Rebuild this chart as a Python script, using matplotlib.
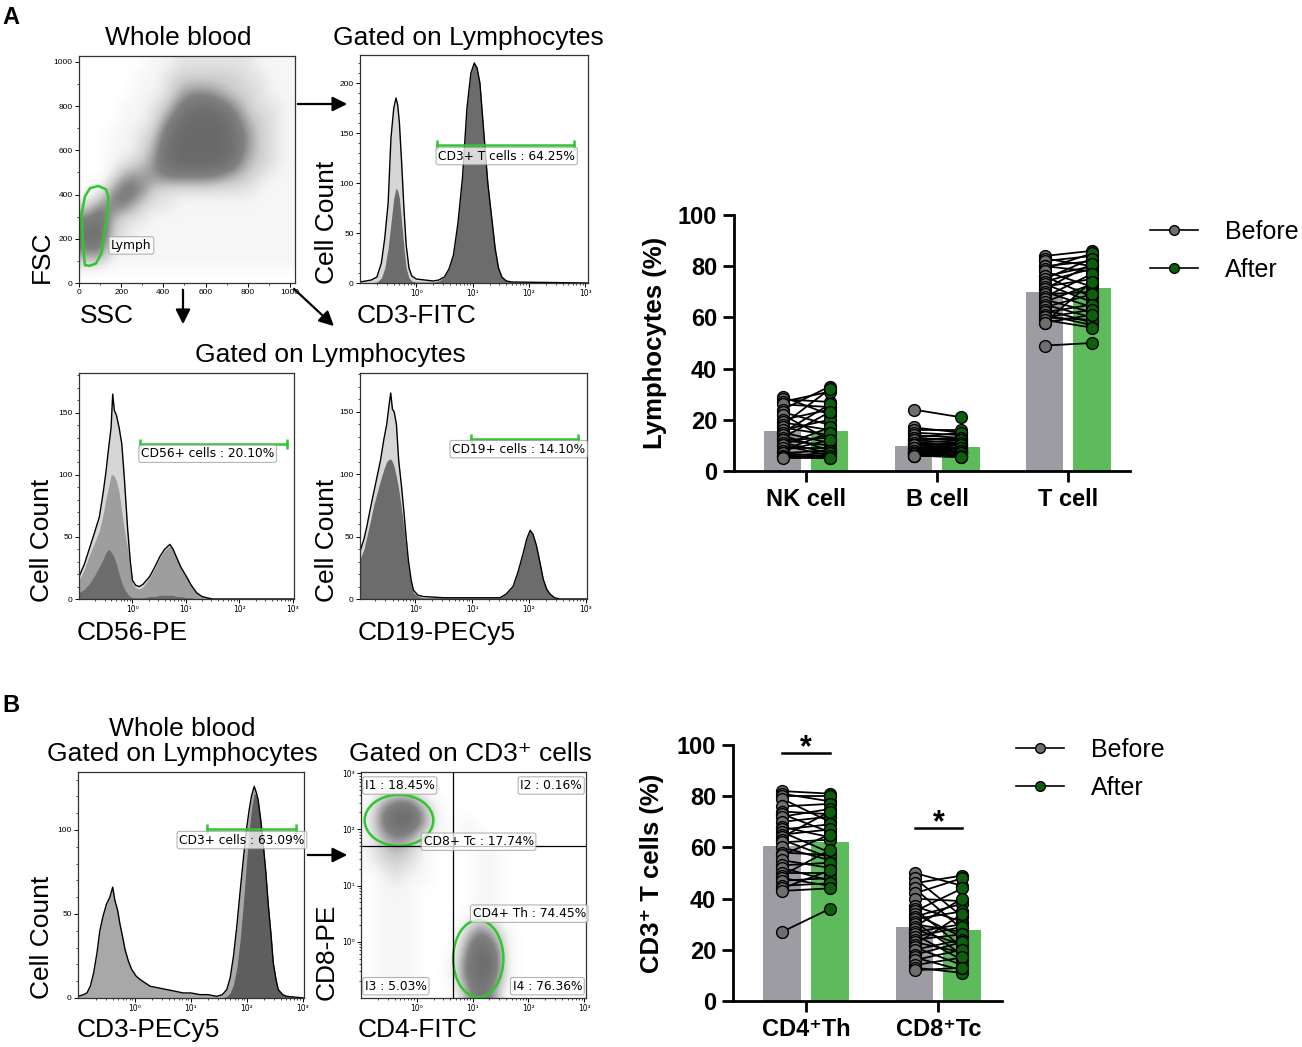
import numpy as np
import matplotlib
matplotlib.use('Agg')
import matplotlib.pyplot as plt
from matplotlib.colors import LinearSegmentedColormap
from matplotlib.patches import Ellipse, Polygon
from matplotlib.lines import Line2D

W, H = 1302, 1047
plt.rcParams['font.family'] = ['Liberation Sans', 'DejaVu Sans']

# ---------------- data ----------------
# whole blood SSC/FSC density (16x16 cells of 64 units, top row = FSC 960-1024)
wb_density = [
    [0, 0, 0, 0, 0, 1, 1, 2, 2, 2, 2, 2, 2, 1, 1, 1],
    [0, 0, 0, 0, 1, 1, 2, 3, 3, 3, 3, 3, 2, 2, 1, 1],
    [0, 0, 0, 0, 1, 1, 2, 4, 5, 5, 4, 3, 3, 2, 1, 1],
    [0, 0, 0, 1, 1, 2, 3, 6, 8, 8, 7, 5, 3, 2, 2, 1],
    [0, 0, 0, 1, 1, 2, 5, 8, 9, 9, 9, 7, 4, 3, 2, 1],
    [0, 0, 1, 1, 2, 3, 7, 9, 9, 9, 9, 8, 5, 3, 2, 1],
    [0, 0, 1, 1, 2, 4, 8, 9, 9, 9, 9, 8, 5, 3, 2, 1],
    [0, 0, 1, 2, 3, 5, 8, 9, 9, 9, 9, 7, 4, 3, 2, 1],
    [0, 0, 2, 5, 5, 5, 6, 6, 6, 6, 5, 4, 3, 2, 1, 1],
    [0, 1, 5, 7, 6, 3, 2, 2, 2, 2, 2, 2, 2, 1, 1, 1],
    [2, 5, 6, 6, 3, 2, 2, 1, 1, 1, 1, 1, 1, 1, 1, 1],
    [6, 8, 4, 2, 2, 1, 1, 1, 1, 1, 1, 1, 1, 1, 1, 1],
    [8, 9, 3, 2, 1, 1, 1, 1, 1, 1, 1, 1, 1, 1, 1, 1],
    [6, 7, 2, 1, 1, 1, 1, 1, 1, 1, 1, 1, 1, 1, 1, 1],
    [3, 3, 1, 1, 1, 1, 1, 1, 1, 1, 1, 1, 1, 1, 1, 1],
    [0, 0, 0, 0, 0, 0, 0, 0, 0, 0, 0, 0, 0, 0, 0, 0],
]
lymph_gate_ssc = [91, 128, 139, 135, 120, 107, 80, 50, 28, 17, 13, 28, 52, 91]
lymph_gate_fsc = [439, 424, 390, 320, 230, 135, 88, 78, 81, 195, 315, 391, 429, 439]

# histograms: x = log10(intensity), y = cell count
cd3_x = [-1.0, -0.8, -0.7, -0.62, -0.56, -0.5, -0.45, -0.4, -0.36, -0.33,
         -0.3, -0.26, -0.22, -0.18, -0.13, -0.08, 0.0, 0.15, 0.3, 0.4,
         0.5, 0.58, 0.66, 0.74, 0.82, 0.9, 0.97, 1.03, 1.08, 1.13,
         1.2, 1.27, 1.34, 1.4, 1.46, 1.52, 1.6, 1.7, 3.05]
cd3_total = [1, 3, 6, 20, 45, 80, 145, 175, 185, 178,
             160, 120, 75, 38, 15, 7, 4, 3, 2, 3,
             6, 14, 28, 60, 105, 175, 210, 220, 215, 200,
             150, 100, 65, 35, 15, 6, 2, 1, 0]
cd3_dark = [0, 0, 1, 5, 15, 35, 60, 85, 95, 92,
            85, 60, 35, 15, 5, 2, 1, 1, 1, 2,
            6, 14, 28, 60, 105, 175, 210, 220, 215, 200,
            150, 100, 65, 35, 15, 6, 2, 1, 0]

cd56_x = [-1.0, -0.9, -0.81, -0.72, -0.62, -0.55, -0.5, -0.45, -0.4, -0.37,
          -0.34, -0.3, -0.25, -0.2, -0.15, -0.09, -0.04, 0.0, 0.06, 0.13,
          0.2, 0.32, 0.42, 0.51, 0.6, 0.7, 0.76, 0.82, 0.9, 1.01,
          1.1, 1.2, 1.3, 1.39, 1.5, 3.02]
cd56_total = [18, 28, 40, 52, 66, 85, 101, 120, 138, 165,
              152, 148, 138, 125, 96, 56, 30, 15, 11, 10,
              12, 18, 26, 34, 40, 44, 40, 34, 26, 18,
              11, 5, 2, 1, 0, 0]
cd56_mid = [15, 24, 35, 44, 55, 68, 80, 90, 100, 100,
            99, 95, 86, 70, 55, 40, 22, 12, 9, 8,
            10, 17, 25, 33, 39, 43, 39, 33, 25, 17,
            10, 5, 2, 1, 0, 0]
cd56_dark = [5, 8, 12, 18, 26, 32, 37, 40, 38, 36,
             33, 28, 20, 13, 8, 4, 2, 1, 1, 1,
             1, 2, 2, 3, 3, 3, 3, 2, 2, 1,
             1, 0, 0, 0, 0, 0]

cd19_x = [-0.97, -0.9, -0.85, -0.79, -0.73, -0.67, -0.61, -0.55, -0.5, -0.46,
          -0.43, -0.4, -0.37, -0.33, -0.29, -0.24, -0.2, -0.16, -0.12, -0.07,
          -0.03, 0.05, 0.14, 0.5, 1.0, 1.49, 1.6, 1.72, 1.81, 1.9,
          1.96, 2.02, 2.07, 2.13, 2.19, 2.25, 2.31, 2.37, 2.45, 2.54, 3.02]
cd19_total = [38, 48, 58, 72, 85, 98, 111, 128, 140, 155,
              165, 152, 150, 140, 111, 90, 71, 50, 31, 15,
              7, 3, 2, 1, 1, 1, 4, 10, 22, 37,
              48, 55, 52, 43, 30, 16, 8, 4, 1, 0, 0]
cd19_dark = [32, 40, 50, 62, 75, 85, 95, 104, 110, 112,
             112, 110, 106, 98, 88, 72, 58, 40, 25, 12,
             5, 2, 1, 1, 1, 1, 4, 10, 22, 37,
             48, 55, 52, 43, 30, 16, 8, 4, 1, 0, 0]

cd3b_x = [-1.02, -0.92, -0.86, -0.8, -0.74, -0.68, -0.63, -0.57, -0.51, -0.45,
          -0.4, -0.36, -0.31, -0.27, -0.22, -0.18, -0.12, -0.06, 0.02, 0.09,
          0.18, 0.27, 0.42, 0.57, 0.72, 0.86, 1.0, 1.16, 1.3, 1.46,
          1.56, 1.64, 1.7, 1.76, 1.82, 1.88, 1.94, 1.99, 2.04, 2.08,
          2.13, 2.17, 2.2, 2.25, 2.29, 2.34, 2.38, 2.43, 2.47, 2.52,
          2.56, 2.64, 2.71, 3.02]
cd3b_total = [1, 2, 3, 7, 15, 27, 40, 49, 56, 60,
              66, 58, 52, 44, 36, 29, 22, 17, 13, 11,
              9, 7, 6, 5, 4, 3, 3, 2, 2, 1,
              2, 5, 12, 25, 43, 64, 84, 100, 112, 120,
              126, 122, 118, 105, 92, 74, 56, 38, 21, 11,
              5, 2, 1, 0]
cd3b_dark = [0, 0, 0, 0, 0, 0, 0, 0, 0, 0,
             0, 0, 0, 0, 0, 0, 0, 0, 0, 0,
             0, 0, 0, 0, 0, 0, 0, 0, 0, 0,
             0, 1, 3, 8, 18, 35, 58, 80, 100, 112,
             122, 120, 117, 105, 92, 74, 56, 38, 21, 11,
             5, 2, 1, 0]

# CD4 / CD8 density (16x16 cells of 0.25 decade, top row = 10^2.75-10^3)
cd48_density = [
    [0, 0, 0, 0, 0, 0, 0, 0, 0, 0, 0, 0, 0, 0, 0, 0],
    [0, 2, 3, 3, 1, 0, 0, 0, 0, 0, 0, 0, 0, 0, 0, 0],
    [1, 5, 8, 8, 4, 1, 0, 0, 0, 0, 0, 0, 0, 0, 0, 0],
    [1, 6, 9, 9, 5, 1, 0, 1, 0, 0, 0, 0, 0, 0, 0, 0],
    [1, 4, 6, 5, 2, 1, 0, 1, 1, 0, 0, 0, 0, 0, 0, 0],
    [1, 3, 4, 3, 1, 0, 0, 0, 1, 1, 0, 0, 0, 0, 0, 0],
    [1, 2, 3, 2, 1, 0, 0, 0, 1, 1, 0, 0, 0, 0, 0, 0],
    [0, 1, 2, 1, 1, 0, 0, 0, 1, 1, 0, 0, 0, 0, 0, 0],
    [0, 1, 1, 1, 0, 0, 0, 0, 1, 1, 0, 0, 0, 0, 0, 0],
    [0, 1, 1, 1, 0, 0, 0, 0, 1, 1, 0, 0, 0, 0, 0, 0],
    [0, 1, 1, 1, 0, 0, 0, 1, 3, 2, 0, 0, 0, 0, 0, 0],
    [0, 1, 1, 1, 0, 0, 0, 3, 7, 4, 1, 0, 0, 0, 0, 0],
    [0, 1, 1, 1, 0, 0, 0, 5, 9, 7, 1, 0, 0, 0, 0, 0],
    [0, 1, 1, 1, 0, 0, 1, 6, 9, 8, 1, 0, 0, 0, 0, 0],
    [0, 1, 1, 1, 0, 0, 1, 6, 9, 7, 1, 0, 0, 0, 0, 0],
    [0, 0, 1, 0, 0, 0, 0, 4, 8, 5, 0, 0, 0, 0, 0, 0],
]

# bar charts (per-subject %)
lymph_cats = ['NK cell', 'B cell', 'T cell']
lymph_mean_before = [15.8, 9.7, 70.0]
lymph_mean_after = [15.8, 9.3, 71.3]
nk_before = [29, 28, 27, 26, 24, 23, 22, 20, 19, 18, 17, 16, 15, 15, 14,
             13, 12, 12, 11, 10, 10, 9, 8, 8, 7, 7, 6, 6, 5.5, 5]
nk_after = [22, 27, 31, 25, 33, 18, 12, 24, 16, 32, 14, 20, 26, 11, 8,
            23, 10, 13, 7, 17, 6, 9, 15, 12, 5.5, 8, 7, 5, 6, 5]
b_before = [24, 17, 16, 15, 14, 13, 13, 12, 12, 11, 11, 10, 10, 10, 9,
            9, 9, 8, 8, 8, 8, 7, 7, 7, 7, 6.5, 6, 6, 6, 6]
b_after = [21, 15, 16, 14, 13, 15, 12, 11, 13, 10, 12, 9, 11, 10, 9,
           8, 10, 8, 9, 7, 8, 7, 8, 6, 7, 6, 7, 5.5, 6, 5.5]
t_before = [84, 83, 82, 80, 80, 79, 78, 76, 76, 75, 74, 73, 72, 71, 70,
            69, 68, 67, 66, 65, 64, 63, 62, 61, 60, 60, 59, 58, 58, 49]
t_after = [86, 80, 84, 82, 78, 85, 72, 80, 68, 83, 79, 66, 75, 81, 64,
           70, 77, 62, 73, 60, 69, 58, 65, 57, 63, 59, 56, 61, 74, 50]

tcell_cats = ['CD4\u207aTh', 'CD8\u207aTc']
tcell_mean_before = [60.5, 28.8]
tcell_mean_after = [62.0, 27.8]
cd4_before = [82, 81, 80, 79, 76, 74, 73, 72, 70, 68, 67, 66, 65, 64, 63,
              62, 60, 58, 57, 55, 53, 52, 50, 49, 48, 47, 45, 44, 43, 27]
cd4_after = [81, 78, 80, 70, 77, 73, 66, 75, 72, 64, 69, 58, 67, 74, 56,
             63, 55, 57, 65, 52, 54, 47, 50, 59, 45, 48, 46, 51, 44, 36]
cd8_before = [50, 48, 46, 44, 42, 40, 37, 36, 35, 34, 33, 32, 31, 30, 29,
              28, 27, 26, 25, 24, 23, 22, 21, 20, 18, 17, 16, 14, 13, 12]
cd8_after = [45, 33, 49, 28, 48, 39, 31, 21, 44, 25, 38, 35, 18, 27, 40,
             22, 30, 16, 29, 26, 19, 34, 14, 24, 23, 12, 20, 17, 11, 13]

# ---------------- styling ----------------
light_gray = '#d6d6d6'
mid_gray = '#9e9e9e'
dark_gray = '#6c6c6c'
gate_green = '#2ec82e'
bar_gray = '#9d9ca2'
bar_green = '#5dbb5b'
dot_gray = '#6e6e6e'
dot_green = '#0d5f0d'
sup = {0: '\u2070', 1: '\u00b9', 2: '\u00b2', 3: '\u00b3'}
flow_cmap = LinearSegmentedColormap.from_list(
    'flow', [(0, '#ffffff'), (0.12, '#f5f5f5'), (0.35, '#cdcdcd'),
             (0.65, '#818181'), (1, '#6a6a6a')])
flow_cmap.set_under('#ffffff')

fig = plt.figure(figsize=(W / 100, H / 100), dpi=100)


def add_ax(l, t, r, b):
    return fig.add_axes([l / W, 1 - b / H, (r - l) / W, (b - t) / H])


def ftext(x, y, s, **kw):
    kw.setdefault('ha', 'center')
    kw.setdefault('va', 'center')
    kw.setdefault('fontsize', 19)
    fig.text(x / W, 1 - y / H, s, **kw)


def arrow(x1, y1, x2, y2):
    fig.add_artist(matplotlib.patches.FancyArrowPatch(
        (x1 / W, 1 - y1 / H), (x2 / W, 1 - y2 / H), transform=fig.transFigure,
        arrowstyle='-|>', mutation_scale=22, lw=1.6, color='k'))


def flow_style(ax):
    for s in ax.spines.values():
        s.set_linewidth(0.9)
        s.set_color('#333333')
    ax.tick_params(which='major', length=3, width=0.7, labelsize=6, pad=1.5)
    ax.tick_params(which='minor', length=1.6, width=0.5)


log_minor = [np.log10(m * 10.0 ** k) for k in range(-1, 3) for m in range(2, 10)]


def log_axis(axis, decades):
    axis.set_ticks(decades)
    axis.set_ticklabels(['10' + sup[d] for d in decades],
                        family=['DejaVu Sans'], fontsize=5.5)
    axis.set_ticks(log_minor, minor=True)


def gate_label(ax, x, y, s, ha='left'):
    ax.text(x, y, s, ha=ha, va='center', fontsize=8.8, family='DejaVu Sans',
            bbox=dict(boxstyle='round,pad=0.18', fc='white', ec='#9a9a9a',
                      lw=0.8, alpha=0.75), zorder=6)


def gate_bar(ax, x0, x1, y):
    ax.plot([x0, x1], [y, y], color=gate_green, lw=1.8, zorder=5)
    ax.plot([x0, x1], [y, y], ls='none', marker='|', ms=7, mew=1.8,
            color=gate_green, zorder=5)


def hist_panel(ax, xs, layers, total, ylim, yticks, xlim):
    for ys, c in layers:
        ax.fill_between(xs, ys, color=c, lw=0)
    ax.plot(xs, total, color='k', lw=1.0)
    ax.set_xlim(*xlim)
    ax.set_ylim(0, ylim)
    flow_style(ax)
    log_axis(ax.xaxis, [0, 1, 2, 3])
    ax.set_yticks(yticks)
    ax.set_yticks(np.arange(0, ylim, 10), minor=True)


# ---------------- panel A: whole blood scatter ----------------
ax = add_ax(79, 56, 295, 283)
ax.imshow(np.array(wb_density, float), extent=[0, 1024, 0, 1024], origin='upper',
          cmap=flow_cmap, vmin=0.05, vmax=9, interpolation='bicubic', aspect='auto')
ax.add_patch(Polygon(np.column_stack([lymph_gate_ssc, lymph_gate_fsc]), closed=True,
                     fill=False, ec=gate_green, lw=1.8, joinstyle='round'))
ax.set_xlim(0, 1024)
ax.set_ylim(0, 1027)
flow_style(ax)
ax.set_xticks([0, 200, 400, 600, 800, 1000])
ax.set_yticks([0, 200, 400, 600, 800, 1000])
ax.set_xticks(np.arange(100, 1001, 200), minor=True)
ax.set_yticks(np.arange(100, 1001, 200), minor=True)
gate_label(ax, 152, 170, 'Lymph')

# CD3-FITC
ax = add_ax(360, 55, 588, 283)
hist_panel(ax, cd3_x, [(cd3_total, light_gray), (cd3_dark, dark_gray)], cd3_total,
           228, [0, 50, 100, 150, 200], (-1, 3.05))
gate_bar(ax, 0.37, 2.8, 138)
gate_label(ax, 0.39, 127, 'CD3+ T cells : 64.25%')

# CD56-PE
ax = add_ax(79, 373, 294, 599)
hist_panel(ax, cd56_x, [(cd56_total, light_gray), (cd56_mid, mid_gray),
                        (cd56_dark, dark_gray)], cd56_total,
           182, [0, 50, 100, 150], (-1, 3.02))
gate_bar(ax, 0.14, 2.89, 125)
gate_label(ax, 0.16, 117, 'CD56+ cells : 20.10%')

# CD19-PECy5
ax = add_ax(360, 373, 587, 599)
hist_panel(ax, cd19_x, [(cd19_total, light_gray), (cd19_dark, dark_gray)], cd19_total,
           181, [0, 50, 100, 150], (-0.97, 3.02))
gate_bar(ax, 0.98, 2.86, 128)
gate_label(ax, 0.65, 120, 'CD19+ cells : 14.10%')

# ---------------- panel B ----------------
ax = add_ax(78, 772, 304, 998)
hist_panel(ax, cd3b_x, [(cd3b_total, '#a8a8a8'), (cd3b_dark, '#5e5e5e')], cd3b_total,
           134.5, [0, 50, 100], (-1.02, 3.02))
gate_bar(ax, 1.29, 2.88, 100.5)
gate_label(ax, 0.79, 94, 'CD3+ cells : 63.09%')

ax = add_ax(361, 772, 586, 998)
ax.imshow(np.array(cd48_density, float), extent=[-1, 3, -1, 3], origin='upper',
          cmap=flow_cmap, vmin=0.05, vmax=9, interpolation='bicubic', aspect='auto')
ax.axvline(0.64, color='k', lw=0.9)
ax.axhline(1.71, color='k', lw=0.9)
ax.add_patch(Ellipse((-0.32, 2.16), 1.23, 0.91, fill=False, ec=gate_green, lw=1.8))
ax.add_patch(Ellipse((1.1, -0.3), 0.9, 1.37, fill=False, ec=gate_green, lw=1.8))
ax.set_xlim(-1, 3.03)
ax.set_ylim(-1, 3.02)
flow_style(ax)
log_axis(ax.xaxis, [0, 1, 2, 3])
log_axis(ax.yaxis, [0, 1, 2, 3])
gate_label(ax, -0.93, 2.78, 'I1 : 18.45%')
gate_label(ax, 2.96, 2.78, 'I2 : 0.16%', ha='right')
gate_label(ax, 0.12, 1.78, 'CD8+ Tc : 17.74%')
gate_label(ax, 1.0, 0.5, 'CD4+ Th : 74.45%')
gate_label(ax, -0.93, -0.79, 'I3 : 5.03%')
gate_label(ax, 2.96, -0.79, 'I4 : 76.36%', ha='right')

# ---------------- text and arrows for the flow panels ----------------
ftext(11, 18, 'A', fontsize=17, fontweight='bold')
ftext(11, 705, 'B', fontsize=17, fontweight='bold')
ftext(178, 38, 'Whole blood')
ftext(468, 38, 'Gated on Lymphocytes')
ftext(330, 355, 'Gated on Lymphocytes')
ftext(182, 729, 'Whole blood')
ftext(182, 754, 'Gated on Lymphocytes')
ftext(470, 754, 'Gated on CD3\u207a cells')
ftext(42, 257, 'FSC', rotation=90)
ftext(80, 316, 'SSC', ha='left')
ftext(327, 222, 'Cell Count', rotation=90)
ftext(357, 316, 'CD3-FITC', ha='left')
ftext(42, 540, 'Cell Count', rotation=90)
ftext(77, 633, 'CD56-PE', ha='left')
ftext(327, 540, 'Cell Count', rotation=90)
ftext(358, 633, 'CD19-PECy5', ha='left')
ftext(42, 937, 'Cell Count', rotation=90)
ftext(77, 1030, 'CD3-PECy5', ha='left')
ftext(327, 952, 'CD8-PE', rotation=90)
ftext(358, 1030, 'CD4-FITC', ha='left')

arrow(295, 104, 350, 104)
arrow(183, 287, 183, 327)
arrow(292, 287, 336, 328)
arrow(305, 855, 350, 855)


# ---------------- bar charts ----------------
def bar_panel(ax, cats, mb, ma, before, after, ylabel, xlim):
    pos = np.arange(len(cats))
    ax.bar(pos - 0.18, mb, 0.285, color=bar_gray, zorder=1)
    ax.bar(pos + 0.18, ma, 0.285, color=bar_green, zorder=1)
    for i in range(len(cats)):
        for b, a in zip(before[i], after[i]):
            ax.plot([i - 0.18, i + 0.18], [b, a], color='k', lw=1.3, zorder=2)
    for i in range(len(cats)):
        ax.plot([i - 0.18] * len(before[i]), before[i], 'o', ls='none', mfc=dot_gray,
                mec='k', ms=8.5, mew=1, zorder=3, clip_on=False)
        ax.plot([i + 0.18] * len(after[i]), after[i], 'o', ls='none', mfc=dot_green,
                mec='k', ms=8.5, mew=1, zorder=3, clip_on=False)
    ax.set_xlim(*xlim)
    ax.set_ylim(0, 100)
    for s in ['top', 'right']:
        ax.spines[s].set_visible(False)
    for s in ['left', 'bottom']:
        ax.spines[s].set_linewidth(2)
    ax.tick_params(width=2, length=8, labelsize=17, pad=4)
    ax.set_xticks(pos, cats, fontweight='bold')
    ax.set_yticks([0, 20, 40, 60, 80, 100], ['0', '20', '40', '60', '80', '100'],
                  fontweight='bold')
    ax.set_ylabel(ylabel, fontsize=18.5, fontweight='bold')


legend_handles = [
    Line2D([], [], color='k', lw=1.2, marker='o', mfc=dot_gray, mec='k', ms=7),
    Line2D([], [], color='k', lw=1.2, marker='o', mfc=dot_green, mec='k', ms=7),
]

ax = add_ax(734, 215, 1130, 471)
bar_panel(ax, lymph_cats, lymph_mean_before, lymph_mean_after,
          [nk_before, b_before, t_before], [nk_after, b_after, t_after],
          'Lymphocytes (%)', (-0.55, 2.47))
ax.yaxis.set_label_coords(-0.17, 0.5)
fig.legend(legend_handles, ['Before', 'After'], loc='upper left',
           bbox_to_anchor=(1150 / W, 1 - 220 / H), frameon=False, borderaxespad=0,
           borderpad=0, handlelength=1.9, handletextpad=1.1, labelspacing=0.55,
           fontsize=18)

ax = add_ax(733, 745, 1002, 1001)
bar_panel(ax, tcell_cats, tcell_mean_before, tcell_mean_after,
          [cd4_before, cd8_before], [cd4_after, cd8_after],
          'CD3\u207a T cells (%)', (-0.55, 1.48))
ax.yaxis.set_label_coords(-0.255, 0.5)
for i, (y_line, y_star) in enumerate([(97, 93), (67.6, 63.6)]):
    ax.plot([i - 0.18, i + 0.18], [y_line, y_line], color='k', lw=1.8, clip_on=False)
    ax.text(i, y_star, '*', ha='center', va='bottom', fontsize=22, fontweight='bold')
fig.legend(legend_handles, ['Before', 'After'], loc='upper left',
           bbox_to_anchor=(1016 / W, 1 - 738 / H), frameon=False, borderaxespad=0,
           borderpad=0, handlelength=1.9, handletextpad=1.1, labelspacing=0.55,
           fontsize=18)

fig.savefig('out.png', dpi=100)
